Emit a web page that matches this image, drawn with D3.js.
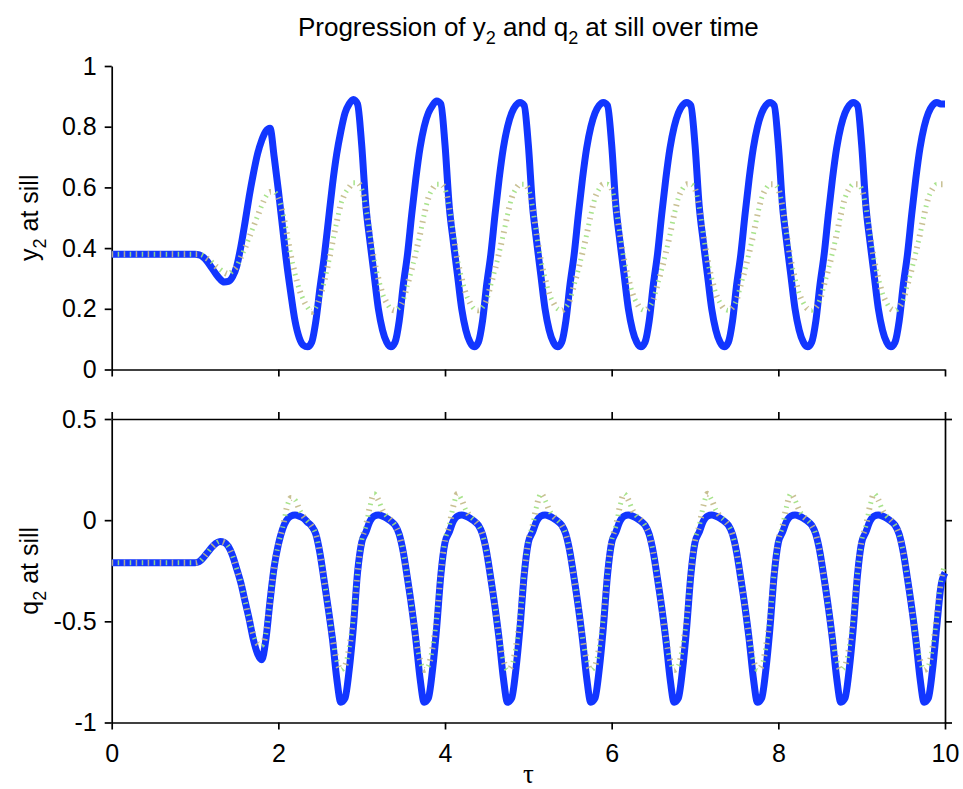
<!DOCTYPE html>
<html>
<head>
<meta charset="utf-8">
<script src="https://cdn.jsdelivr.net/npm/d3@7"></script>
<style>
	body { margin: 0; background: #fff; }
	svg { display: block; font-family: 'Liberation Sans', Arial, Helvetica, sans-serif; }
	.axis path, .axis line { stroke: #000; stroke-width: 1.7; }
	.axis text { font-size: 25px; fill: #000; font-family: 'Liberation Sans', Arial, sans-serif; }
</style>
</head>
<body>
<svg id="chart-svg" width="963" height="789"></svg>
<script>
// sample times, every 0.05 from 0 to 10
const tau = d3.range(0, 201).map((i) => +(i * 0.05).toFixed(2));

const xTicks = [ 0, 2, 4, 6, 8, 10 ];
const yTopTicks = [ 0, 0.2, 0.4, 0.6, 0.8, 1 ];
const yBotTicks = [ -1, -0.5, 0, 0.5 ];

// y2 at sill, solid blue (one row per unit of tau)
const y2Blue = [
	0.38, 0.38, 0.38, 0.38, 0.38, 0.38, 0.38, 0.38, 0.38, 0.38, 0.38, 0.38, 0.38, 0.38, 0.38, 0.38, 0.38, 0.38, 0.38, 0.38,
	0.38, 0.378, 0.37, 0.355, 0.335, 0.315, 0.298, 0.288, 0.29, 0.305, 0.34, 0.405, 0.485, 0.57, 0.645, 0.71, 0.755, 0.785, 0.795, 0.70,
	0.59, 0.47, 0.35, 0.25, 0.16, 0.105, 0.08, 0.075, 0.09, 0.16, 0.27, 0.37, 0.49, 0.61, 0.71, 0.785, 0.845, 0.875, 0.89, 0.875,
	0.74, 0.54, 0.42, 0.31, 0.20, 0.13, 0.09, 0.075, 0.09, 0.16, 0.28, 0.38, 0.51, 0.63, 0.73, 0.80, 0.845, 0.87, 0.885, 0.875,
	0.74, 0.54, 0.42, 0.31, 0.20, 0.13, 0.09, 0.075, 0.09, 0.16, 0.28, 0.38, 0.51, 0.63, 0.73, 0.80, 0.845, 0.87, 0.88, 0.87,
	0.74, 0.54, 0.42, 0.31, 0.20, 0.13, 0.09, 0.075, 0.09, 0.16, 0.28, 0.38, 0.51, 0.63, 0.73, 0.80, 0.845, 0.87, 0.88, 0.87,
	0.74, 0.54, 0.42, 0.31, 0.20, 0.13, 0.09, 0.075, 0.09, 0.16, 0.28, 0.38, 0.51, 0.63, 0.73, 0.80, 0.845, 0.87, 0.88, 0.87,
	0.74, 0.54, 0.42, 0.31, 0.20, 0.13, 0.09, 0.075, 0.09, 0.16, 0.28, 0.38, 0.51, 0.63, 0.73, 0.80, 0.845, 0.87, 0.88, 0.87,
	0.74, 0.54, 0.42, 0.31, 0.20, 0.13, 0.09, 0.075, 0.09, 0.16, 0.28, 0.38, 0.51, 0.63, 0.73, 0.80, 0.845, 0.87, 0.88, 0.87,
	0.74, 0.54, 0.42, 0.31, 0.20, 0.13, 0.09, 0.075, 0.09, 0.16, 0.28, 0.38, 0.51, 0.63, 0.73, 0.80, 0.845, 0.87, 0.88, 0.875,
	0.875
];

// y2 at sill, dotted (khaki / green)
const y2Dot = [
	0.38, 0.38, 0.38, 0.38, 0.38, 0.38, 0.38, 0.38, 0.38, 0.38, 0.38, 0.38, 0.38, 0.38, 0.38, 0.38, 0.38, 0.38, 0.38, 0.38,
	0.38, 0.38, 0.375, 0.365, 0.355, 0.34, 0.33, 0.32, 0.315, 0.325, 0.34, 0.37, 0.40, 0.435, 0.47, 0.505, 0.54, 0.57, 0.585, 0.585,
	0.565, 0.52, 0.45, 0.375, 0.315, 0.265, 0.23, 0.205, 0.19, 0.205, 0.24, 0.29, 0.35, 0.42, 0.485, 0.545, 0.58, 0.60, 0.615, 0.615,
	0.595, 0.535, 0.445, 0.36, 0.30, 0.25, 0.22, 0.20, 0.195, 0.205, 0.23, 0.28, 0.33, 0.385, 0.445, 0.51, 0.565, 0.595, 0.61, 0.61,
	0.595, 0.535, 0.445, 0.36, 0.30, 0.25, 0.22, 0.20, 0.195, 0.205, 0.23, 0.28, 0.33, 0.385, 0.445, 0.51, 0.565, 0.595, 0.61, 0.61,
	0.595, 0.535, 0.445, 0.36, 0.30, 0.25, 0.22, 0.20, 0.195, 0.205, 0.23, 0.28, 0.33, 0.385, 0.445, 0.51, 0.565, 0.595, 0.61, 0.61,
	0.595, 0.535, 0.445, 0.36, 0.30, 0.25, 0.22, 0.20, 0.195, 0.205, 0.23, 0.28, 0.33, 0.385, 0.445, 0.51, 0.565, 0.595, 0.61, 0.61,
	0.595, 0.535, 0.445, 0.36, 0.30, 0.25, 0.22, 0.20, 0.195, 0.205, 0.23, 0.28, 0.33, 0.385, 0.445, 0.51, 0.565, 0.595, 0.61, 0.61,
	0.595, 0.535, 0.445, 0.36, 0.30, 0.25, 0.22, 0.20, 0.195, 0.205, 0.23, 0.28, 0.33, 0.385, 0.445, 0.51, 0.565, 0.595, 0.61, 0.61,
	0.595, 0.535, 0.445, 0.36, 0.30, 0.25, 0.22, 0.20, 0.195, 0.205, 0.23, 0.28, 0.33, 0.385, 0.445, 0.51, 0.565, 0.595, 0.61, 0.61,
	0.61
];

// q2 at sill, solid blue
const q2Blue = [
	-0.21, -0.21, -0.21, -0.21, -0.21, -0.21, -0.21, -0.21, -0.21, -0.21, -0.21, -0.21, -0.21, -0.21, -0.21, -0.21, -0.21, -0.21, -0.21, -0.21,
	-0.21, -0.205, -0.185, -0.16, -0.135, -0.115, -0.105, -0.11, -0.13, -0.175, -0.24, -0.31, -0.40, -0.49, -0.59, -0.66, -0.69, -0.59, -0.40, -0.23,
	-0.12, -0.045, 0.00, 0.02, 0.025, 0.02, 0.01, -0.01, -0.03, -0.07, -0.165, -0.30, -0.44, -0.59, -0.78, -0.90, -0.88, -0.74, -0.53, -0.26,
	-0.11, -0.06, -0.005, 0.02, 0.025, 0.02, 0.01, -0.005, -0.025, -0.07, -0.16, -0.29, -0.43, -0.59, -0.78, -0.90, -0.88, -0.74, -0.53, -0.27,
	-0.11, -0.06, -0.005, 0.02, 0.025, 0.02, 0.01, -0.005, -0.025, -0.07, -0.16, -0.29, -0.43, -0.59, -0.78, -0.90, -0.88, -0.74, -0.53, -0.27,
	-0.11, -0.06, -0.005, 0.02, 0.025, 0.02, 0.01, -0.005, -0.025, -0.07, -0.16, -0.29, -0.43, -0.59, -0.78, -0.90, -0.88, -0.74, -0.53, -0.27,
	-0.11, -0.06, -0.005, 0.02, 0.025, 0.02, 0.01, -0.005, -0.025, -0.07, -0.16, -0.29, -0.43, -0.59, -0.78, -0.90, -0.88, -0.74, -0.53, -0.27,
	-0.11, -0.06, -0.005, 0.02, 0.025, 0.02, 0.01, -0.005, -0.025, -0.07, -0.16, -0.29, -0.43, -0.59, -0.78, -0.90, -0.88, -0.74, -0.53, -0.27,
	-0.11, -0.06, -0.005, 0.02, 0.025, 0.02, 0.01, -0.005, -0.025, -0.07, -0.16, -0.29, -0.43, -0.59, -0.78, -0.90, -0.88, -0.74, -0.53, -0.27,
	-0.11, -0.06, -0.005, 0.02, 0.025, 0.02, 0.01, -0.005, -0.025, -0.07, -0.16, -0.29, -0.43, -0.59, -0.78, -0.90, -0.88, -0.74, -0.53, -0.33,
	-0.26
];

// q2 at sill, dotted (khaki / green)
const q2Dot = [
	-0.21, -0.21, -0.21, -0.21, -0.21, -0.21, -0.21, -0.21, -0.21, -0.21, -0.21, -0.21, -0.21, -0.21, -0.21, -0.21, -0.21, -0.21, -0.21, -0.21,
	-0.21, -0.205, -0.185, -0.16, -0.135, -0.115, -0.105, -0.11, -0.13, -0.175, -0.24, -0.31, -0.40, -0.49, -0.565, -0.61, -0.62, -0.56, -0.40, -0.23,
	-0.12, -0.04, 0.06, 0.11, 0.10, 0.055, 0.02, -0.005, -0.03, -0.07, -0.165, -0.30, -0.44, -0.58, -0.69, -0.74, -0.72, -0.63, -0.48, -0.26,
	-0.10, -0.03, 0.07, 0.13, 0.10, 0.05, 0.02, 0.00, -0.025, -0.07, -0.16, -0.29, -0.43, -0.58, -0.69, -0.74, -0.72, -0.63, -0.48, -0.26,
	-0.10, -0.03, 0.07, 0.13, 0.10, 0.05, 0.02, 0.00, -0.025, -0.07, -0.16, -0.29, -0.43, -0.58, -0.69, -0.74, -0.72, -0.63, -0.48, -0.26,
	-0.10, -0.03, 0.07, 0.13, 0.10, 0.05, 0.02, 0.00, -0.025, -0.07, -0.16, -0.29, -0.43, -0.58, -0.69, -0.74, -0.72, -0.63, -0.48, -0.26,
	-0.10, -0.03, 0.07, 0.13, 0.10, 0.05, 0.02, 0.00, -0.025, -0.07, -0.16, -0.29, -0.43, -0.58, -0.69, -0.74, -0.72, -0.63, -0.48, -0.26,
	-0.10, -0.03, 0.07, 0.13, 0.10, 0.05, 0.02, 0.00, -0.025, -0.07, -0.16, -0.29, -0.43, -0.58, -0.69, -0.74, -0.72, -0.63, -0.48, -0.26,
	-0.10, -0.03, 0.07, 0.13, 0.10, 0.05, 0.02, 0.00, -0.025, -0.07, -0.16, -0.29, -0.43, -0.58, -0.69, -0.74, -0.72, -0.63, -0.48, -0.26,
	-0.10, -0.03, 0.07, 0.13, 0.10, 0.05, 0.02, 0.00, -0.025, -0.07, -0.16, -0.29, -0.43, -0.58, -0.69, -0.74, -0.72, -0.63, -0.48, -0.30,
	-0.22
];

const svg = d3.select('#chart-svg');

const x = d3.scaleLinear().domain([ 0, 10 ]).range([ 111.7, 945 ]);
const yTop = d3.scaleLinear().domain([ 0, 1 ]).range([ 369.5, 66 ]);
const yBot = d3.scaleLinear().domain([ -1, 0.5 ]).range([ 722.5, 419 ]);

const fmt = (d) => String(d);

// ---- top panel axes (left + bottom only)
svg.append('g')
	.attr('class', 'axis')
	.attr('transform', 'translate(' + x(0) + ',0)')
	.call(d3.axisLeft(yTop).tickValues(yTopTicks).tickFormat(fmt).tickSize(7).tickSizeOuter(0).tickPadding(8));
svg.append('g')
	.attr('class', 'axis')
	.attr('transform', 'translate(0,' + yTop(0) + ')')
	.call(d3.axisBottom(x).tickValues(xTicks).tickFormat('').tickSize(7).tickSizeOuter(0));

// ---- bottom panel axes (full box, ticks outward)
svg.append('g')
	.attr('class', 'axis')
	.attr('transform', 'translate(' + x(0) + ',0)')
	.call(d3.axisLeft(yBot).tickValues(yBotTicks).tickFormat(fmt).tickSize(7).tickSizeOuter(0).tickPadding(8));
svg.append('g')
	.attr('class', 'axis')
	.attr('transform', 'translate(' + x(10) + ',0)')
	.call(d3.axisRight(yBot).tickValues(yBotTicks).tickFormat('').tickSize(7).tickSizeOuter(0));
svg.append('g')
	.attr('class', 'axis')
	.attr('transform', 'translate(0,' + yBot(0.5) + ')')
	.call(d3.axisTop(x).tickValues(xTicks).tickFormat('').tickSize(7).tickSizeOuter(0));
svg.append('g')
	.attr('class', 'axis')
	.attr('transform', 'translate(0,' + yBot(-1) + ')')
	.call(d3.axisBottom(x).tickValues(xTicks).tickFormat(fmt).tickSize(7).tickSizeOuter(0).tickPadding(15));

// ---- series
function drawSeries(values, yScale) {
	let line = d3.line()
		.x((d, i) => x(tau[i]))
		.y((d) => yScale(d))
		.curve(d3.curveMonotoneX);
	return line(values);
}

function drawPanel(blue, dotted, yScale) {
	svg.append('path')
		.attr('d', drawSeries(blue, yScale))
		.attr('fill', 'none')
		.attr('stroke', '#1236ff')
		.attr('stroke-width', 7)
		.attr('stroke-linejoin', 'round');
	// two dotted runs drawn on top, khaki then green
	svg.append('path')
		.attr('d', drawSeries(dotted, yScale))
		.attr('fill', 'none')
		.attr('stroke', '#c2b987')
		.attr('stroke-opacity', 0.9)
		.attr('stroke-width', 6)
		.attr('stroke-dasharray', '1.5,10.5');
	svg.append('path')
		.attr('d', drawSeries(dotted, yScale))
		.attr('fill', 'none')
		.attr('stroke', '#9fe07e')
		.attr('stroke-opacity', 0.9)
		.attr('stroke-width', 5)
		.attr('stroke-dasharray', '1.5,10.5')
		.attr('stroke-dashoffset', 6);
}

drawPanel(y2Blue, y2Dot, yTop);
drawPanel(q2Blue, q2Dot, yBot);

// ---- texts
let title = svg.append('text')
	.attr('x', (x(0) + x(10)) / 2)
	.attr('y', 36)
	.attr('text-anchor', 'middle')
	.style('font-size', '26px');
title.append('tspan').text('Progression of y');
title.append('tspan').attr('dy', 8).style('font-size', '18px').text('2');
title.append('tspan').attr('dy', -8).text(' and q');
title.append('tspan').attr('dy', 8).style('font-size', '18px').text('2');
title.append('tspan').attr('dy', -8).text(' at sill over time');

function yLabel(cy, letter) {
	let t = svg.append('text')
		.attr('transform', 'translate(38,' + cy + ') rotate(-90)')
		.attr('text-anchor', 'middle')
		.style('font-size', '25px');
	t.append('tspan').text(letter);
	t.append('tspan').attr('dy', 8).style('font-size', '18px').text('2');
	t.append('tspan').attr('dy', -8).text(' at sill');
}
yLabel((yTop(0) + yTop(1)) / 2, 'y');
yLabel((yBot(-1) + yBot(0.5)) / 2, 'q');

svg.append('text')
	.attr('x', (x(0) + x(10)) / 2)
	.attr('y', 783)
	.attr('text-anchor', 'middle')
	.style('font-family', "'Liberation Serif', 'DejaVu Serif', serif")
	.style('font-size', '27px')
	.text('τ');
</script>
</body>
</html>
